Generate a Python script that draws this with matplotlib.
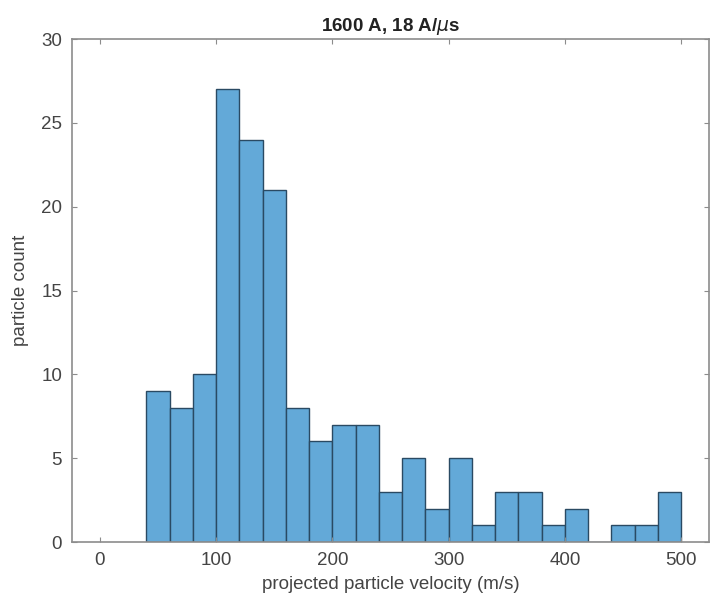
import matplotlib
matplotlib.use("Agg")
import matplotlib.pyplot as plt
import numpy as np

bin_edges = [40, 60, 80, 100, 120, 140, 160, 180, 200, 220, 240, 260, 280, 300,
             320, 340, 360, 380, 400, 420, 440, 460, 480, 500]
counts = [9, 8, 10, 27, 24, 21, 8, 6, 7, 7, 3, 5, 2, 5, 1, 3, 3, 1, 2, 0, 1, 1, 3]
xticks = [0, 100, 200, 300, 400, 500]
yticks = [0, 5, 10, 15, 20, 25, 30]

plt.rcParams['font.family'] = ['Liberation Sans', 'DejaVu Sans']
plt.rcParams['mathtext.fontset'] = 'dejavusans'

fig = plt.figure(figsize=(7.12, 6.05), dpi=100)
ax = fig.add_axes([0.101, 0.104, 0.895, 0.8315])

edges = np.array(bin_edges)
ax.bar(edges[:-1], counts, width=np.diff(edges), align='edge',
       color='#63a9d8', edgecolor='#2a4a63', linewidth=1.0)

ax.set_xlim(-24, 524)
ax.set_ylim(0, 30)
ax.set_xticks(xticks)
ax.set_yticks(yticks)
gray = '#8c8c8c'
for s in ax.spines.values():
    s.set_color(gray)
    s.set_linewidth(1.2)
ax.tick_params(direction='in', top=True, right=True, colors=gray, labelcolor='#444444',
               labelsize=13.5, length=3.5, pad=7)
ax.set_xlabel('projected particle velocity (m/s)', fontsize=13.5, color='#444444', labelpad=5)
ax.set_ylabel('particle count', fontsize=13.5, color='#444444', labelpad=9)
ax.set_title('1600 A, 18 A/$\\mu$s', fontsize=13.5, fontweight='bold', color='#222222', pad=6)

fig.savefig('out.png', dpi=100)
